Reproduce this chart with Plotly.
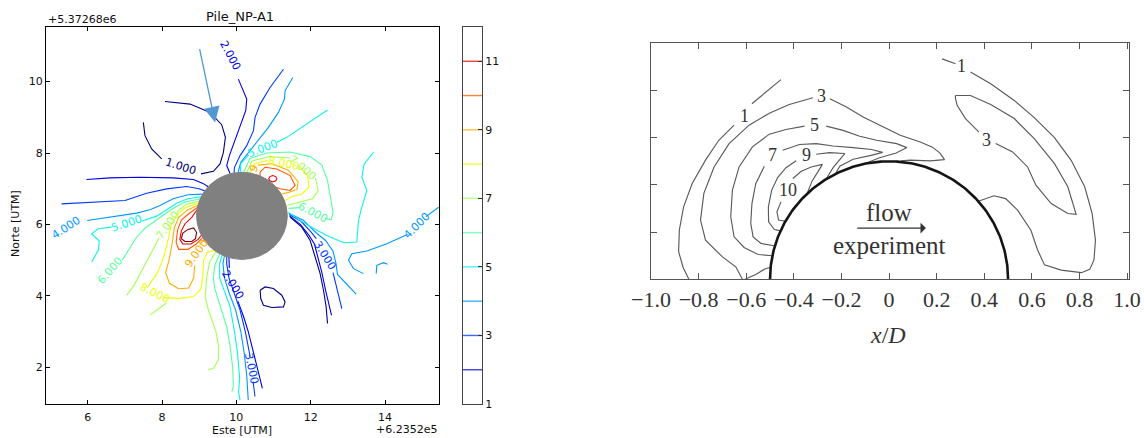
import numpy as np
import plotly.graph_objects as go

# ================= LEFT PANEL DATA (Este / Norte, local UTM offsets) =================
LEVEL_COLORS = {1: '#000080', 2: '#0000e9', 3: '#003aff', 4: '#0097ff', 5: '#0bf3ec',
                6: '#56ffa1', 7: '#a1ff56', 8: '#ecff03', 9: '#ffad00', 10: '#ff5700',
                11: '#e90000', 12: '#800000'}
CBAR_LEVELS = [2, 3, 4, 5, 6, 7, 8, 9, 10, 11]
CBAR_TICKS = [1, 3, 5, 7, 9, 11]
PILE_CENTER = (10.15, 6.24)
PILE_RADIUS = 1.22
FLOW_ARROW_START = (9.004, 10.953)
FLOW_ARROW_END = (9.427, 8.858)

lvl1_arc_a = [(8.08, 9.445), (8.754, 9.37), (9.292, 9.137), (9.606, 8.793), (9.705, 8.439), (9.651, 8.02), (9.561, 7.694), (9.382, 7.489), (9.05, 7.415)]
lvl1_arc_b = [(7.991, 7.834), (7.722, 8.113), (7.542, 8.486), (7.498, 8.858)]
lvl1_wake = [(11.445, 6.205), (11.76, 5.925), (11.984, 5.553), (12.118, 5.087), (12.253, 4.622), (12.343, 4.156), (12.415, 3.691), (12.451, 3.225)]
lvl1_loop = [(10.638, 4.156), (10.773, 4.249), (10.997, 4.203), (11.221, 4.017), (11.311, 3.83), (11.266, 3.691), (10.952, 3.672), (10.728, 3.737), (10.656, 3.924), (10.638, 4.156)]

lvl2_top = [(10.054, 10.069), (10.279, 9.51), (10.252, 9.184), (10.117, 8.812), (9.965, 8.346), (9.812, 7.927), (9.74, 7.648), (9.834, 7.418)]
lvl2_left = [(5.972, 7.257), (6.6, 7.304), (7.407, 7.322), (8.305, 7.304), (8.843, 7.257), (9.1, 7.15), (9.243, 7.056)]
lvl2_wake = [(11.43, 6.24), (11.72, 6.0), (11.95, 5.7), (12.1, 5.45), (12.2, 5.05), (12.3, 4.65), (12.4, 4.15), (12.5, 3.7), (12.56, 3.45)]
lvl2_tail_a = [(9.8, 5.09), (9.81, 4.78)]
lvl2_tail_b = [(10.04, 3.85), (10.2, 3.4), (10.32, 3.0), (10.44, 2.5), (10.53, 2.1), (10.62, 1.75), (10.7, 1.41)]

lvl3_top = [(11.266, 10.348), (10.907, 9.836), (10.638, 9.37), (10.503, 9.0), (10.459, 8.625), (10.279, 8.206), (10.1, 7.927), (9.95, 7.6), (9.938, 7.441)]
lvl3_left = [(5.299, 6.577), (5.882, 6.605), (6.6, 6.652), (7.004, 6.67), (7.228, 6.745), (7.587, 6.875), (8.125, 6.996), (8.664, 7.061), (9.0, 7.0), (9.151, 6.94)]
lvl3_wake_a = [(11.42, 6.28), (11.75, 6.08), (12.0, 5.8), (12.15, 5.6)]
lvl3_wake_b = [(12.6, 4.65), (12.7, 4.2), (12.78, 3.9), (12.836, 3.644)]
lvl3_tail_a = [(9.74, 5.11), (9.74, 4.9), (9.8, 4.5), (9.94, 4.1), (10.1, 3.6), (10.24, 3.0), (10.33, 2.5), (10.37, 2.3)]
lvl3_tail_b = [(10.45, 1.6), (10.48, 1.35), (10.5, 1.18)]

lvl4_top = [(11.517, 10.115), (11.311, 9.743), (11.293, 9.51), (11.131, 9.137), (10.862, 8.718), (10.548, 8.3), (10.279, 7.974), (10.12, 7.74), (10.044, 7.455)]
lvl4_left = [(5.99, 6.111), (6.69, 6.223), (7.318, 6.316), (7.677, 6.409), (7.946, 6.53), (8.3, 6.72), (8.7, 6.83), (9.093, 6.85)]
lvl4_wake = [(11.41, 6.31), (11.8, 6.12), (12.15, 5.76), (12.4, 5.55), (12.6, 5.25), (12.68, 4.9), (12.72, 4.6), (12.971, 4.324), (13.222, 4.045)]
lvl4_right_a = [(15.1, 6.22), (15.44, 6.48)]
lvl4_right_b = [(14.6, 5.72), (14.048, 5.46), (13.509, 5.255), (13.106, 5.181), (13.016, 4.994), (13.15, 4.762), (13.419, 4.622)]
lvl4_hook = [(13.76, 4.622), (13.778, 4.855), (13.958, 4.929), (14.066, 4.882)]
lvl4_tail = [(9.68, 5.13), (9.64, 4.9), (9.68, 4.5), (9.8, 4.1), (9.98, 3.6), (10.12, 3.0), (10.21, 2.4), (10.28, 1.75), (10.32, 1.08)]

lvl5_top_a = [(12.45, 9.203), (11.894, 8.812), (11.356, 8.439), (11.087, 8.3)]
lvl5_top_b = [(10.33, 7.95), (10.12, 7.7), (10.107, 7.459)]
lvl5_right = [(13.689, 8.02), (13.437, 7.694), (13.375, 7.322), (13.509, 6.95), (13.375, 6.484), (13.285, 6.112), (13.24, 5.506), (12.881, 5.488), (12.433, 5.693), (11.939, 5.972), (11.58, 6.205), (11.401, 6.344)]
lvl5_left_a = [(6.107, 4.947), (6.286, 5.273), (6.313, 5.534), (6.107, 5.739), (6.286, 5.879), (6.645, 5.925)]
lvl5_left_b = [(7.45, 6.09), (7.856, 6.232), (8.125, 6.409), (8.4, 6.6), (8.7, 6.72), (9.054, 6.775)]
lvl5_tail = [(9.62, 5.15), (9.55, 4.9), (9.55, 4.5), (9.65, 4.2), (9.83, 3.7), (9.95, 3.0), (10.03, 2.4), (10.09, 1.7), (10.06, 1.3), (10.1, 1.08)]

lvl6_right_a = [(10.193, 7.459), (10.369, 7.85), (10.817, 8.0), (11.446, 8.03), (11.984, 7.9), (12.298, 7.66), (12.45, 7.23), (12.522, 6.764), (12.6, 6.35), (12.55, 6.12), (12.38, 6.18)]
lvl6_right_b = [(11.72, 6.47), (11.4, 6.45)]
lvl6_left = [(6.93, 5.0), (7.12, 5.3), (7.3, 5.62), (7.55, 5.9), (7.9, 6.15), (8.25, 6.42), (8.6, 6.62), (9.027, 6.717)]
lvl6_tail = [(9.55, 5.17), (9.42, 4.85), (9.38, 4.5), (9.42, 4.2), (9.6, 3.6), (9.74, 3.13), (9.83, 2.6), (9.9, 2.0), (9.92, 1.46), (9.875, 1.316)]

lvl7_right_a = [(10.278, 7.453), (10.42, 7.78), (10.9, 7.9), (11.45, 7.86)]
lvl7_right_b = [(12.13, 7.3), (12.2, 6.95), (12.05, 6.72), (11.7, 6.62), (11.355, 6.53)]
lvl7_left_a = [(9.004, 6.657), (8.65, 6.56), (8.4, 6.36)]
lvl7_left_b = [(7.92, 5.62), (7.7, 5.2), (7.45, 4.7), (7.25, 4.3), (7.05, 4.02)]
lvl7_low = [(7.68, 3.46), (7.9, 3.63), (8.12, 3.8)]
lvl7_tail = [(9.45, 5.24), (9.28, 4.95), (9.2, 4.5), (9.16, 3.97), (9.25, 3.6), (9.35, 3.3), (9.45, 3.0), (9.52, 2.6), (9.516, 2.2), (9.382, 1.968), (9.247, 1.921)]

lvl8_right_a = [(10.362, 7.441), (10.5, 7.7), (10.85, 7.8)]
lvl8_right_b = [(11.7, 7.62), (11.92, 7.36), (11.95, 7.05), (11.78, 6.86), (11.5, 6.78), (11.3, 6.66)]
lvl8_left_a = [(8.983, 6.597), (8.65, 6.48), (8.4, 6.28), (8.25, 6.0), (8.17, 5.6), (8.05, 5.1), (7.88, 4.65), (7.7, 4.35), (7.6, 4.22)]
lvl8_left_b = [(8.05, 3.95), (8.45, 3.93), (8.85, 3.98), (9.05, 4.2), (9.1, 4.6), (9.12, 5.0), (9.22, 5.22), (9.4, 5.28)]

lvl9_right = [(10.58, 7.66), (10.95, 7.7), (11.4, 7.52), (11.66, 7.2), (11.63, 6.98), (11.42, 6.9), (11.22, 6.85)]
lvl9_left_a = [(8.966, 6.535), (8.68, 6.4), (8.45, 6.2), (8.33, 5.9), (8.28, 5.5), (8.2, 5.05), (8.1, 4.65), (8.2, 4.35), (8.45, 4.2), (8.72, 4.22), (8.85, 4.5), (8.88, 4.85)]
lvl9_left_b = [(9.02, 5.45), (9.13, 5.56)]

lvl10_right = [(10.638, 7.462), (10.773, 7.602), (11.087, 7.555), (11.446, 7.369), (11.58, 7.09), (11.446, 6.95), (11.176, 6.997), (10.817, 7.136), (10.638, 7.276), (10.638, 7.462)]
lvl10_left = [(8.952, 6.473), (8.72, 6.3), (8.52, 6.12), (8.42, 5.85), (8.38, 5.5), (8.45, 5.3), (8.7, 5.3), (8.92, 5.45), (9.1, 5.64)]

lvl11_right = [(11.09, 7.28), (11.06, 7.34), (10.98, 7.37), (10.9, 7.34), (10.87, 7.28), (10.9, 7.22), (10.98, 7.19), (11.06, 7.22), (11.09, 7.28)]
lvl11_left = [(8.942, 6.41), (8.8, 6.2), (8.62, 6.02), (8.52, 5.82), (8.48, 5.58), (8.56, 5.45), (8.78, 5.45), (8.97, 5.58), (9.08, 5.72)]

lvl12_left = [(8.52, 5.6), (8.56, 5.76), (8.7, 5.86), (8.85, 5.9), (8.93, 5.78), (8.9, 5.6), (8.8, 5.52), (8.62, 5.52), (8.52, 5.6)]

LEFT_SEGMENTS = [
    (1, lvl1_arc_a), (1, lvl1_arc_b), (1, lvl1_wake), (1, lvl1_loop),
    (2, lvl2_top), (2, lvl2_left), (2, lvl2_wake), (2, lvl2_tail_a), (2, lvl2_tail_b),
    (3, lvl3_top), (3, lvl3_left), (3, lvl3_wake_a), (3, lvl3_wake_b), (3, lvl3_tail_a), (3, lvl3_tail_b),
    (4, lvl4_top), (4, lvl4_left), (4, lvl4_wake), (4, lvl4_right_a), (4, lvl4_right_b), (4, lvl4_hook), (4, lvl4_tail),
    (5, lvl5_top_a), (5, lvl5_top_b), (5, lvl5_right), (5, lvl5_left_a), (5, lvl5_left_b), (5, lvl5_tail),
    (6, lvl6_right_a), (6, lvl6_right_b), (6, lvl6_left), (6, lvl6_tail),
    (7, lvl7_right_a), (7, lvl7_right_b), (7, lvl7_left_a), (7, lvl7_left_b), (7, lvl7_low), (7, lvl7_tail),
    (8, lvl8_right_a), (8, lvl8_right_b), (8, lvl8_left_a), (8, lvl8_left_b),
    (9, lvl9_right), (9, lvl9_left_a), (9, lvl9_left_b),
    (10, lvl10_right), (10, lvl10_left),
    (11, lvl11_right), (11, lvl11_left),
    (12, lvl12_left),
]

# contour labels: text, x, y, angle, level
LEFT_LABELS = [
    ("1.000", 8.50, 7.62, 18, 1), ("2.000", 9.83, 10.72, 62, 2), ("5.000", 10.71, 8.12, -21, 5),
    ("8.000", 11.27, 7.71, 12, 8), ("7.000", 11.80, 7.58, 40, 7), ("9", 10.49, 7.56, -60, 9),
    ("6.000", 12.05, 6.33, 27, 6), ("4.000", 14.86, 5.97, -45, 4), ("3.000", 12.38, 5.13, 58, 3),
    ("4.000", 5.43, 5.92, -33, 4), ("5.000", 7.05, 6.02, -18, 5), ("6.000", 6.60, 4.72, -49, 6),
    ("7.000", 8.15, 5.98, -55, 7), ("8.000", 7.82, 4.07, 27, 8), ("9.000", 8.93, 5.18, -55, 9),
    ("2.000", 9.92, 4.30, 59, 2), ("3.000", 10.41, 1.97, 78, 3),
]

# ================= RIGHT PANEL DATA (x/D, y/D) =================
r1_left_a = [(-0.841, 0.0), (-0.865, 0.05), (-0.884, 0.117), (-0.881, 0.209), (-0.863, 0.307), (-0.827, 0.406), (-0.771, 0.505), (-0.715, 0.589), (-0.651, 0.653)]
r1_left_b = [(-0.576, 0.744), (-0.454, 0.846)]
r3_left_a = [(-0.616, 0.0), (-0.644, 0.053), (-0.701, 0.096), (-0.771, 0.166), (-0.792, 0.251), (-0.778, 0.364), (-0.735, 0.476), (-0.672, 0.575), (-0.588, 0.653), (-0.503, 0.704), (-0.419, 0.741), (-0.32, 0.769)]
r3_left_b = [(-0.249, 0.765), (-0.179, 0.73), (-0.109, 0.688), (-0.038, 0.653), (0.047, 0.61), (0.131, 0.582), (0.18, 0.561), (0.213, 0.536), (0.233, 0.507), (0.173, 0.502), (0.089, 0.505), (0.05, 0.502)]
r5_a = [(-0.49, 0.1), (-0.55, 0.105), (-0.609, 0.135), (-0.651, 0.18), (-0.665, 0.265), (-0.658, 0.378), (-0.63, 0.476), (-0.574, 0.561), (-0.503, 0.615), (-0.433, 0.635), (-0.355, 0.649)]
r5_b = [(-0.264, 0.649), (-0.193, 0.631), (-0.123, 0.606), (-0.052, 0.589), (0.032, 0.575), (0.075, 0.558), (0.03, 0.535), (-0.04, 0.515), (-0.1, 0.491)]
r_base = [(-0.605, 0.0), (-0.56, 0.02), (-0.52, 0.045), (-0.499, 0.05)]
r7_a = [(-0.478, 0.141), (-0.538, 0.152), (-0.571, 0.18), (-0.581, 0.237), (-0.576, 0.321), (-0.56, 0.405), (-0.524, 0.479)]
r7_b = [(-0.447, 0.547), (-0.376, 0.571), (-0.306, 0.575), (-0.235, 0.565), (-0.151, 0.558), (-0.073, 0.55), (-0.027, 0.538), (-0.08, 0.524), (-0.151, 0.509), (-0.207, 0.479), (-0.225, 0.447)]
r9_a = [(-0.455, 0.205), (-0.482, 0.211), (-0.506, 0.244), (-0.507, 0.307), (-0.493, 0.378), (-0.468, 0.431), (-0.433, 0.473), (-0.39, 0.502)]
r9_b = [(-0.306, 0.53), (-0.25, 0.537), (-0.186, 0.533), (-0.21, 0.504), (-0.235, 0.473), (-0.265, 0.424)]
r10_a = [(-0.404, 0.427), (-0.369, 0.458), (-0.327, 0.476), (-0.28, 0.487), (-0.299, 0.455), (-0.323, 0.417), (-0.345, 0.362)]
r10_b = [(-0.454, 0.328), (-0.471, 0.286), (-0.464, 0.251), (-0.435, 0.246)]
r1_right_a = [(0.223, 0.934), (0.279, 0.913)]
r1_right_b = [(0.342, 0.878), (0.427, 0.829), (0.526, 0.758), (0.61, 0.685), (0.695, 0.6), (0.765, 0.504), (0.822, 0.392), (0.853, 0.279), (0.867, 0.166), (0.861, 0.082), (0.843, 0.042), (0.808, 0.028), (0.723, 0.039), (0.653, 0.061), (0.624, 0.124), (0.596, 0.208), (0.54, 0.293), (0.49, 0.342), (0.441, 0.354), (0.375, 0.331)]
r3_right_a = [(0.279, 0.779), (0.342, 0.779), (0.427, 0.741), (0.526, 0.681), (0.61, 0.596), (0.695, 0.49), (0.751, 0.392), (0.777, 0.307), (0.786, 0.275), (0.751, 0.279), (0.681, 0.321), (0.617, 0.399), (0.582, 0.476), (0.519, 0.54), (0.448, 0.575)]
r3_right_b = [(0.378, 0.624), (0.321, 0.681), (0.286, 0.737), (0.279, 0.765), (0.279, 0.779)]

RIGHT_SEGMENTS = [r1_left_a, r1_left_b, r3_left_a, r3_left_b, r5_a, r5_b, r_base, r7_a, r7_b,
                  r9_a, r9_b, r10_a, r10_b, r1_right_a, r1_right_b, r3_right_a, r3_right_b]
RIGHT_LABELS = [("1", -0.609, 0.691), ("3", -0.282, 0.775), ("5", -0.313, 0.653), ("7", -0.489, 0.526),
                ("9", -0.348, 0.526), ("10", -0.426, 0.378), ("1", 0.304, 0.902), ("3", 0.41, 0.589)]
CYL_RADIUS = 0.5
RIGHT_XTICKS = [-1.0, -0.8, -0.6, -0.4, -0.2, 0.0, 0.2, 0.4, 0.6, 0.8, 1.0]
RIGHT_XTICKTEXT = ['\u22121.0', '\u22120.8', '\u22120.6', '\u22120.4', '\u22120.2', '0', '0.2', '0.4', '0.6', '0.8', '1.0']

# ================= FIGURE =================
W, H = 1144, 438
fig = go.Figure()

for lev, pts in LEFT_SEGMENTS:
    xs, ys = zip(*pts)
    fig.add_trace(go.Scatter(x=xs, y=ys, mode='lines', line=dict(color=LEVEL_COLORS[lev], width=1.1),
                             xaxis='x', yaxis='y', hoverinfo='skip', showlegend=False))

for lev in CBAR_LEVELS:
    fig.add_trace(go.Scatter(x=[0, 1], y=[lev, lev], mode='lines', opacity=0.75,
                             line=dict(color=LEVEL_COLORS[lev], width=1.4),
                             xaxis='x2', yaxis='y2', hoverinfo='skip', showlegend=False))

for pts in RIGHT_SEGMENTS:
    xs, ys = zip(*pts)
    fig.add_trace(go.Scatter(x=xs, y=ys, mode='lines', line=dict(color='#5a5a5a', width=1.15),
                             xaxis='x3', yaxis='y3', hoverinfo='skip', showlegend=False))

th = np.linspace(0, np.pi, 200)
fig.add_trace(go.Scatter(x=CYL_RADIUS * np.cos(th), y=CYL_RADIUS * np.sin(th), mode='lines',
                         line=dict(color='#151515', width=2.6), xaxis='x3', yaxis='y3',
                         hoverinfo='skip', showlegend=False))

cx, cy = PILE_CENTER
shapes = [dict(type='circle', xref='x', yref='y', x0=cx - PILE_RADIUS, x1=cx + PILE_RADIUS,
               y0=cy - PILE_RADIUS, y1=cy + PILE_RADIUS, fillcolor='#808080',
               line=dict(color='#808080', width=1), layer='above')]

LF = 'DejaVu Sans'
SF = 'Liberation Serif'
ann = []
for txt, x, y, ang, lev in LEFT_LABELS:
    ann.append(dict(text=txt, x=x, y=y, xref='x', yref='y', showarrow=False, textangle=ang,
                    xanchor='center', yanchor='middle',
                    font=dict(family=LF, size=11, color=LEVEL_COLORS[lev])))
for txt, x, y in RIGHT_LABELS:
    ann.append(dict(text=txt, x=x, y=y, xref='x3', yref='y3', showarrow=False,
                    xanchor='center', yanchor='middle',
                    font=dict(family=SF, size=18, color='#333333')))

ann.append(dict(text='', x=FLOW_ARROW_END[0], y=FLOW_ARROW_END[1], ax=FLOW_ARROW_START[0], ay=FLOW_ARROW_START[1],
                xref='x', yref='y', axref='x', ayref='y', showarrow=True, arrowhead=2, arrowsize=2.4,
                arrowwidth=1.3, arrowcolor='#5297d4'))
ann.append(dict(text='flow', x=0.0, y=0.285, xref='x3', yref='y3', showarrow=False,
                xanchor='center', yanchor='middle', font=dict(family=SF, size=25, color='#333333')))
ann.append(dict(text='', x=0.155, y=0.217, ax=-0.14, ay=0.217, xref='x3', yref='y3', axref='x3', ayref='y3',
                showarrow=True, arrowhead=1, arrowsize=1.3, arrowwidth=1.4, arrowcolor='#333333'))
ann.append(dict(text='experiment', x=0.0, y=0.145, xref='x3', yref='y3', showarrow=False,
                xanchor='center', yanchor='middle', font=dict(family=SF, size=25, color='#333333')))


def paper_text(txt, px, py, size, family, xanchor='center', angle=0, color='#111111'):
    return dict(text=txt, x=px / W, y=1 - py / H, xref='paper', yref='paper', showarrow=False,
                xanchor=xanchor, yanchor='middle', textangle=angle,
                font=dict(family=family, size=size, color=color))


ann.append(paper_text('<i>x</i>/<i>D</i>', 888, 335, 24, SF, color='#333333'))
ann.append(paper_text('Pile_NP-A1', 240, 17, 13, LF))
ann.append(paper_text('+5.37268e6', 46, 19, 11, LF, xanchor='left'))
ann.append(paper_text('+6.2352e5', 439, 429, 11, LF, xanchor='right'))
ann.append(paper_text('Este [UTM]', 242, 430, 11, LF))
ann.append(paper_text('Norte [UTM]', 15, 224, 11, LF, angle=-90))

ydom = [1 - 404 / H, 1 - 27 / H]
axis_common = dict(showgrid=False, zeroline=False, showline=True, mirror='allticks', ticks='inside',
                   automargin=False)

fig.update_layout(
    width=W, height=H, margin=dict(l=0, r=0, t=0, b=0, pad=0), autosize=False,
    paper_bgcolor='white', plot_bgcolor='white', showlegend=False,
    shapes=shapes, annotations=ann,
    xaxis=dict(domain=[46 / W, 439 / W], range=[4.88, 15.45], anchor='y', tickvals=[6, 8, 10, 12, 14],
               linecolor='#000000', linewidth=1, ticklen=4, tickcolor='#000000',
               tickfont=dict(family=LF, size=11, color='#111111'), ticklabelstandoff=3, **axis_common),
    yaxis=dict(domain=ydom, range=[0.97, 11.53], anchor='x', tickvals=[2, 4, 6, 8, 10],
               linecolor='#000000', linewidth=1, ticklen=4, tickcolor='#000000',
               tickfont=dict(family=LF, size=11, color='#111111'), **axis_common),
    xaxis2=dict(domain=[463 / W, 482 / W], range=[0, 1], anchor='y2', showticklabels=False,
                showgrid=False, zeroline=False, showline=True, mirror=True, linecolor='#444444', ticks='',
                automargin=False),
    yaxis2=dict(domain=ydom, range=[1, 12], anchor='x2', side='right', tickvals=CBAR_TICKS,
                showgrid=False, zeroline=False, showline=True, mirror=True, linecolor='#444444',
                ticks='inside', ticklen=4, tickcolor='#333333', automargin=False,
                tickfont=dict(family=LF, size=11, color='#111111')),
    xaxis3=dict(domain=[651 / W, 1129 / W], range=[-1.0, 1.008], anchor='y3', tickvals=RIGHT_XTICKS,
                ticktext=RIGHT_XTICKTEXT, linecolor='#555555', linewidth=1.2, ticklen=6, tickcolor='#555555',
                tickfont=dict(family=SF, size=22, color='#333333'), ticklabelstandoff=0, **axis_common),
    yaxis3=dict(domain=[1 - 279.3 / H, 1 - 43.3 / H], range=[0, 1.0], anchor='x3',
                tickvals=[0.2, 0.4, 0.6, 0.8], showticklabels=False,
                linecolor='#555555', linewidth=1.2, ticklen=6, tickcolor='#555555', **axis_common),
)

fig.write_html("out.html", config={'displayModeBar': False},
               post_script="document.body.style.margin='0px';document.body.style.overflow='hidden';")
